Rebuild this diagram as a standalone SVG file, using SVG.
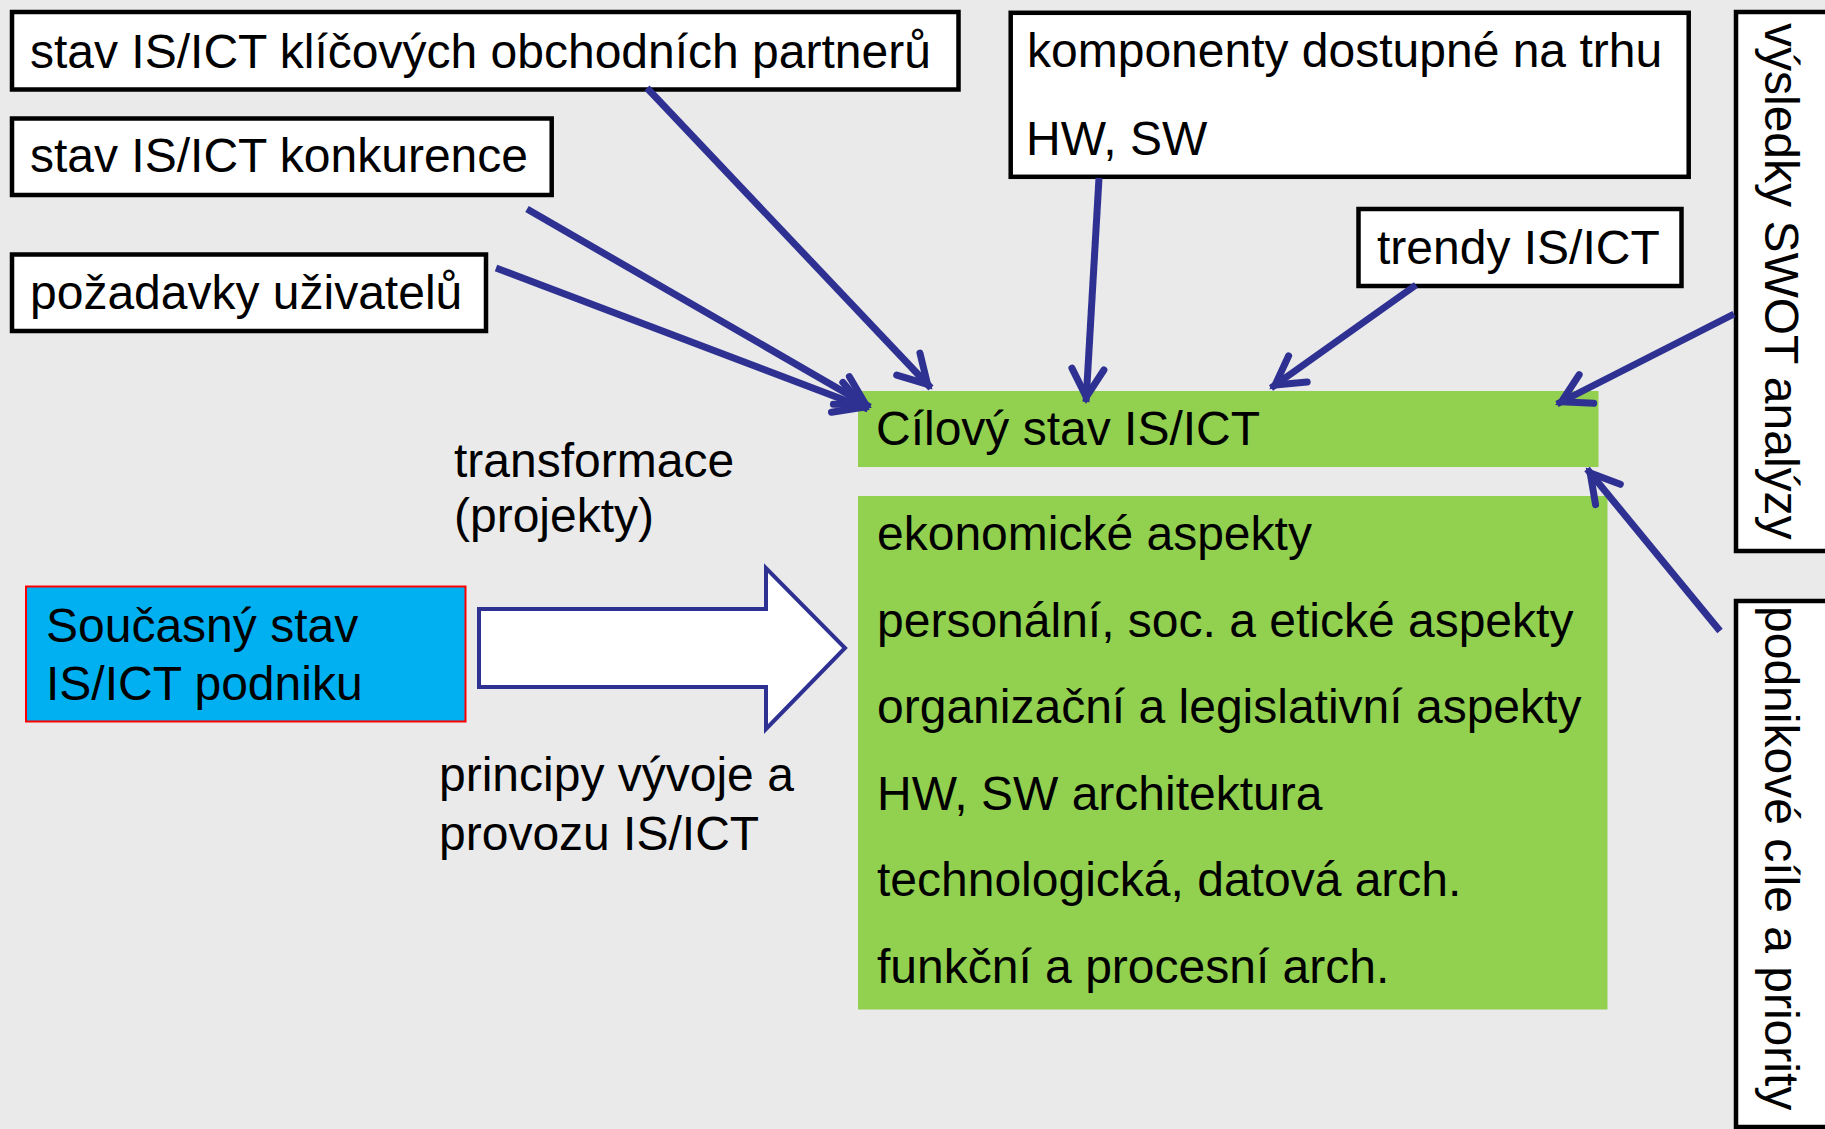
<svg xmlns="http://www.w3.org/2000/svg" width="1825" height="1129" viewBox="0 0 1825 1129">
<style>
.t{font-family:"Liberation Sans",Arial,sans-serif;font-size:48px;fill:#000}
.box{fill:#fff;stroke:#000;stroke-width:4.5}
.green{fill:#92D050}
.conn{stroke:#2E3192;stroke-width:7;fill:none;marker-end:url(#ah)}
</style>
<defs>
<marker id="ah" markerUnits="userSpaceOnUse" markerWidth="60" markerHeight="60" viewBox="-50 -30 60 60" refX="0" refY="0" orient="auto" overflow="visible">
<path d="M -33 -16 L -5 0 L -33 16" fill="none" stroke="#2E3192" stroke-width="7" stroke-linecap="round"/>
</marker>
</defs>
<rect x="0" y="0" width="1825" height="1129" fill="#EAEAEA"/>

<g id="partneri">
<rect class="box" x="12" y="12" width="946.5" height="77.5"/>
<text class="t" x="30" y="68">stav IS/ICT klíčových obchodních partnerů</text>
</g>
<g id="konkurence">
<rect class="box" x="12" y="118.5" width="539.7" height="76.5"/>
<text class="t" x="30" y="172">stav IS/ICT konkurence</text>
</g>
<g id="pozadavky">
<rect class="box" x="12" y="254.5" width="474" height="76.5"/>
<text class="t" x="30" y="309">požadavky uživatelů</text>
</g>
<g id="komponenty">
<rect class="box" x="1010.7" y="12.8" width="678" height="164"/>
<text class="t" x="1027" y="67">komponenty dostupné na trhu</text>
<text class="t" x="1026" y="155">HW, SW</text>
</g>
<g id="trendy">
<rect class="box" x="1358.5" y="209" width="323" height="77"/>
<text class="t" x="1377" y="264">trendy IS/ICT</text>
</g>
<g id="swot">
<rect class="box" x="1736" y="12" width="120" height="539"/>
<text class="t" transform="translate(1765,23) rotate(90)">výsledky SWOT analýzy</text>
</g>
<g id="cile">
<rect class="box" x="1736" y="601" width="120" height="526"/>
<text class="t" transform="translate(1765,606) rotate(90)">podnikové cíle a priority</text>
</g>
<g id="cilovy">
<rect class="green" x="858" y="391" width="740.5" height="76"/>
<text class="t" x="876" y="445">Cílový stav IS/ICT</text>
</g>
<g id="aspekty">
<rect class="green" x="858" y="496" width="749.5" height="513.5"/>
<text class="t" x="877" y="550">ekonomické aspekty</text>
<text class="t" x="877" y="636.6">personální, soc. a etické aspekty</text>
<text class="t" x="877" y="723">organizační a legislativní aspekty</text>
<text class="t" x="877" y="809.5">HW, SW architektura</text>
<text class="t" x="877" y="896">technologická, datová arch.</text>
<text class="t" x="877" y="983">funkční a procesní arch.</text>
</g>
<g id="soucasny">
<rect x="26" y="586.5" width="439.5" height="135" fill="#00B0F0" stroke="#FF0000" stroke-width="2"/>
<text class="t" x="46" y="642">Současný stav</text>
<text class="t" x="46" y="700">IS/ICT podniku</text>
</g>
<g id="transformace">
<path d="M 479 609 L 766 609 L 766 568 L 845 648 L 766 729 L 766 687 L 479 687 Z" fill="#fff" stroke="#2E3192" stroke-width="4"/>
<text class="t" x="454" y="477">transformace</text>
<text class="t" x="454" y="532">(projekty)</text>
<text class="t" x="439" y="791">principy vývoje a</text>
<text class="t" x="439" y="850">provozu IS/ICT</text>
</g>
<g id="connectors">
<line class="conn" x1="647" y1="88" x2="931" y2="388"/>
<line class="conn" x1="527" y1="209" x2="870" y2="407"/>
<line class="conn" x1="496" y1="268" x2="868" y2="409"/>
<line class="conn" x1="1099" y1="178" x2="1086" y2="402"/>
<line class="conn" x1="1416" y1="285" x2="1271" y2="388"/>
<line class="conn" x1="1734" y1="314" x2="1557" y2="404"/>
<line class="conn" x1="1720" y1="631" x2="1587" y2="469"/>
</g>
</svg>
